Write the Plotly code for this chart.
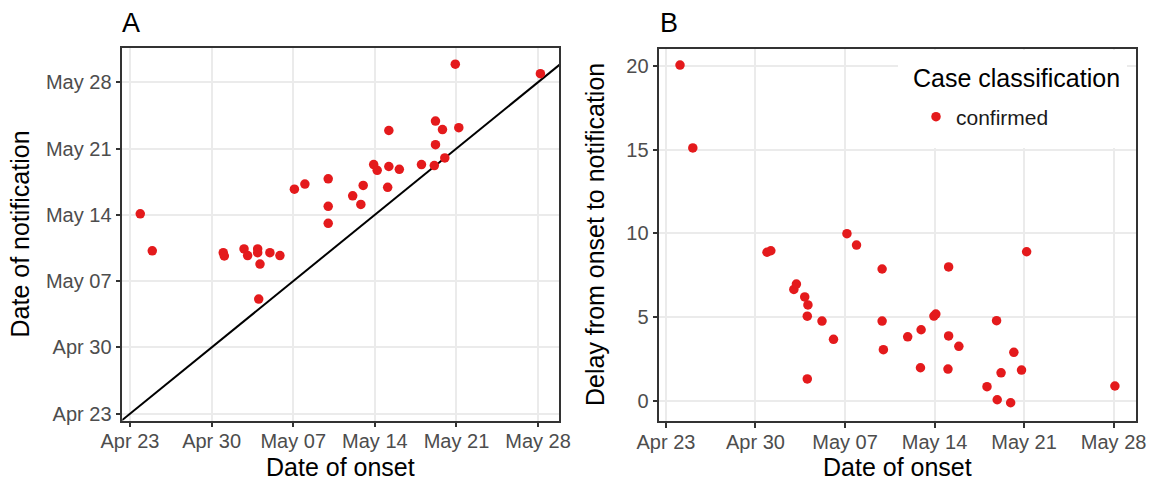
import plotly.graph_objects as go

# ---------------- data (days since Apr 23) ----------------
# Panel A: date of onset vs date of notification
onset_a = [0.88, 1.91, 8.0, 8.09, 9.78, 10.09, 10.95, 10.95, 11.15, 12.0, 12.86, 11.04,
           14.1, 15.0, 17.0, 17.0, 17.0, 19.1, 19.8, 20.0, 20.9, 21.2, 22.2, 22.2,
           23.1, 22.1, 25.0, 26.1, 26.2, 27.0, 26.2, 26.8, 28.2, 27.9, 35.2]
notif_a = [21.1, 17.2, 17.0, 16.65, 17.4, 16.7, 17.4, 17.0, 15.8, 17.0, 16.7, 12.1,
           23.7, 24.25, 24.8, 21.9, 20.1, 23.0, 22.1, 24.1, 26.3, 25.7, 29.9, 26.1,
           25.8, 23.9, 26.3, 26.2, 28.4, 27.0, 30.9, 30.0, 30.2, 36.9, 35.9]

# Panel B: date of onset vs delay (days)
onset_b = [1.1, 2.1, 7.9, 8.2, 10.0, 10.2, 10.85, 11.1, 11.05, 11.05, 12.2, 13.1,
           14.15, 14.9, 16.9, 16.9, 17.0, 18.9, 19.95, 19.9, 20.95, 21.1, 22.1, 22.1,
           22.9, 22.05, 25.85, 25.1, 25.9, 26.2, 26.95, 27.2, 27.8, 28.2, 35.1]
delay_b = [20.05, 15.1, 8.87, 8.96, 6.65, 6.97, 6.2, 5.72, 5.05, 1.3, 4.76, 3.67,
           9.98, 9.3, 7.87, 4.76, 3.05, 3.82, 4.24, 1.97, 5.06, 5.18, 7.99, 3.87,
           3.25, 1.89, 4.78, 0.84, 0.06, 1.67, -0.12, 2.89, 1.83, 8.9, 0.88]

date_tickvals = [0, 7, 14, 21, 28, 35]
date_ticktext = ["Apr 23", "Apr 30", "May 07", "May 14", "May 21", "May 28"]
delay_tickvals = [0, 5, 10, 15, 20]

W, H = 1149, 485
RED = "#E41A1C"
FONT = "Liberation Sans"

def px_x(a, b):
    return [a / W, b / W]

def px_y(top, bottom):
    return [1 - bottom / H, 1 - top / H]

fig = go.Figure()

# identity line in panel A
fig.add_trace(go.Scatter(x=[-5, 45], y=[-5, 45], mode="lines",
                         line=dict(color="black", width=2),
                         showlegend=False, hoverinfo="skip",
                         xaxis="x", yaxis="y"))
fig.add_trace(go.Scatter(x=onset_a, y=notif_a, mode="markers",
                         marker=dict(color=RED, size=9.5),
                         name="confirmed", showlegend=False,
                         xaxis="x", yaxis="y"))
fig.add_trace(go.Scatter(x=onset_b, y=delay_b, mode="markers",
                         marker=dict(color=RED, size=9.5),
                         name="confirmed", showlegend=True,
                         xaxis="x2", yaxis="y2"))

axis_common = dict(
    showline=True, mirror=True, linecolor="#333333", linewidth=1.5,
    ticks="outside", ticklen=5, tickwidth=1.5, tickcolor="#333333",
    showgrid=True, gridcolor="#EBEBEB", gridwidth=1.5,
    zeroline=False, automargin=False,
    tickfont=dict(family=FONT, size=20, color="#4D4D4D"),
)

fig.update_layout(
    width=W, height=H, autosize=False,
    margin=dict(l=0, r=0, t=0, b=0, autoexpand=False),
    paper_bgcolor="white", plot_bgcolor="white",
    font=dict(family=FONT, color="black"),
    xaxis=dict(domain=px_x(122.3, 559.3), range=[-0.66, 36.82], ticklabelstandoff=-3,
               tickvals=date_tickvals, ticktext=date_ticktext, anchor="y", **axis_common),
    yaxis=dict(domain=px_y(48.3, 420.7), range=[-0.74, 38.58],
               tickvals=date_tickvals, ticktext=date_ticktext, anchor="x", **axis_common),
    xaxis2=dict(domain=px_x(659.3, 1136), range=[-0.52, 36.75], ticklabelstandoff=-3,
                tickvals=date_tickvals, ticktext=date_ticktext, anchor="y2", **axis_common),
    yaxis2=dict(domain=px_y(49, 421), range=[-1.21, 21.01],
                tickvals=delay_tickvals, anchor="x2", **axis_common),
    legend=dict(
        font=dict(family=FONT, size=21, color="#1a1a1a"),
        x=916 / W, xanchor="left", y=1 - 117 / H, yanchor="middle",
        bgcolor="rgba(0,0,0,0)", borderwidth=0,
    ),
    shapes=[dict(type="rect", xref="paper", yref="paper",
                 x0=898 / W, x1=1127 / W, y0=1 - 148 / H, y1=1 - 50 / H,
                 fillcolor="white", line=dict(width=0), layer="above")],
)

annotations = [
    dict(text="A", x=120 / W, y=1 - 22.5 / H, xanchor="left", yanchor="middle",
         font=dict(size=27)),
    dict(text="B", x=658 / W, y=1 - 22.5 / H, xanchor="left", yanchor="middle",
         font=dict(size=27)),
    dict(text="Date of onset", x=340.8 / W, y=1 - 467 / H, xanchor="center", yanchor="middle",
         font=dict(size=25)),
    dict(text="Date of onset", x=897.6 / W, y=1 - 467 / H, xanchor="center", yanchor="middle",
         font=dict(size=25)),
    dict(text="Date of notification", x=19 / W, y=1 - 234.5 / H, xanchor="center", yanchor="middle",
         textangle=-90, font=dict(size=25)),
    dict(text="Delay from onset to notification", x=595 / W, y=1 - 235 / H, xanchor="center",
         yanchor="middle", textangle=-90, font=dict(size=25)),
    dict(text="Case classification", x=911 / W, y=1 - 78 / H, xanchor="left", yanchor="middle",
         font=dict(size=25)),
]
for a in annotations:
    a.update(xref="paper", yref="paper", showarrow=False)
    a["font"].update(family=FONT, color="black")
fig.update_layout(annotations=annotations)

fig.write_html("out.html")
